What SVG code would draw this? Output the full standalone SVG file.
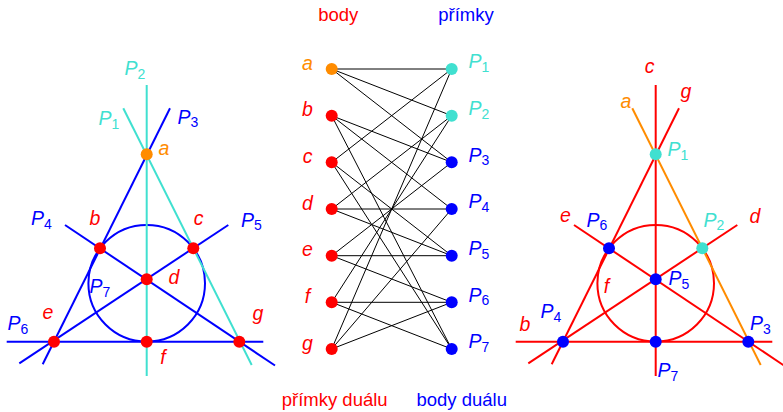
<svg xmlns="http://www.w3.org/2000/svg" width="783" height="412" viewBox="0 0 783 412">
<style>
 text{font-family:"Liberation Sans","DejaVu Sans",sans-serif}
 .lab{font-size:19.5px;font-style:italic}
 .sub{font-size:14px;font-style:normal}
 .hdr{font-size:18.5px}
 .r{fill:#ff0000} .b{fill:#0000ff} .t{fill:#40e0d0} .o{fill:#ff8c00}
 .ln{fill:none;stroke-width:2}
 .lb{stroke:#0000ff} .lr{stroke:#ff0000} .lt{stroke:#40e0d0} .lo{stroke:#ff8c00}
 .edge{stroke:#000;stroke-width:1}
</style>

<!-- LEFT FIGURE: lines -->
<g id="left-lines">
  <line id="L-P6" class="ln lb" x1="6.7" y1="341.7" x2="263.3" y2="341.7"/>
  <line id="L-P3" class="ln lb" x1="170" y1="108.3" x2="42.7" y2="364.3"/>
  <line id="L-P4" class="ln lb" x1="65" y1="225" x2="275" y2="365.5"/>
  <line id="L-P5" class="ln lb" x1="228.3" y1="225" x2="19.3" y2="363.3"/>
  <circle id="L-P7" class="ln lb" cx="146.7" cy="283.3" r="58.3"/>
  <line id="L-P2" class="ln lt" x1="146.7" y1="85" x2="146.7" y2="376"/>
  <line id="L-P1" class="ln lt" x1="123.3" y1="108.3" x2="251.7" y2="365"/>
</g>
<g id="left-points">
  <circle class="o" cx="146.7" cy="154.3" r="6"/>
  <circle class="r" cx="100" cy="248.3" r="6"/>
  <circle class="r" cx="193.3" cy="248.3" r="6"/>
  <circle class="r" cx="146.7" cy="279.3" r="6"/>
  <circle class="r" cx="54" cy="341.7" r="6"/>
  <circle class="r" cx="146.7" cy="341.7" r="6"/>
  <circle class="r" cx="239.3" cy="341.7" r="6"/>
</g>
<g id="left-labels" class="lab">
  <text class="t" x="124.5" y="75">P<tspan class="sub" dy="3.5">2</tspan></text>
  <text class="t" x="98.5" y="125">P<tspan class="sub" dy="3.5">1</tspan></text>
  <text class="b" x="177.5" y="123.5">P<tspan class="sub" dy="3.5">3</tspan></text>
  <text class="o" x="164" y="155" text-anchor="middle">a</text>
  <text class="b" x="31" y="225">P<tspan class="sub" dy="3.5">4</tspan></text>
  <text class="r" x="95" y="225" text-anchor="middle">b</text>
  <text class="r" x="198.5" y="225" text-anchor="middle">c</text>
  <text class="b" x="241" y="226.5">P<tspan class="sub" dy="3.5">5</tspan></text>
  <text class="r" x="174" y="283.5" text-anchor="middle">d</text>
  <text class="b" x="89.5" y="293">P<tspan class="sub" dy="3.5">7</tspan></text>
  <text class="r" x="48" y="318.5" text-anchor="middle">e</text>
  <text class="b" x="7.5" y="330">P<tspan class="sub" dy="3.5">6</tspan></text>
  <text class="r" x="258" y="320" text-anchor="middle">g</text>
  <text class="r" x="163" y="363.5" text-anchor="middle">f</text>
</g>

<!-- MIDDLE: incidence graph -->
<text class="hdr r" x="338.3" y="21" text-anchor="middle">body</text>
<text class="hdr b" x="466" y="21" text-anchor="middle">přímky</text>
<text class="hdr r" x="334.7" y="406" text-anchor="middle">přímky duálu</text>
<text class="hdr b" x="461.7" y="406" text-anchor="middle">body duálu</text>

<g id="connectors" class="edge">
  <!-- a: P1 P2 P3 -->
  <line x1="331.7" y1="69" x2="451.7" y2="69"/>
  <line x1="331.7" y1="69" x2="451.7" y2="115.7"/>
  <line x1="331.7" y1="69" x2="451.7" y2="162.3"/>
  <!-- b: P3 P4 P7 -->
  <line x1="331.7" y1="115.7" x2="451.7" y2="162.3"/>
  <line x1="331.7" y1="115.7" x2="451.7" y2="209"/>
  <line x1="331.7" y1="115.7" x2="451.7" y2="349"/>
  <!-- c: P1 P5 P7 -->
  <line x1="331.7" y1="162.3" x2="451.7" y2="69"/>
  <line x1="331.7" y1="162.3" x2="451.7" y2="255.7"/>
  <line x1="331.7" y1="162.3" x2="451.7" y2="349"/>
  <!-- d: P2 P4 P5 -->
  <line x1="331.7" y1="209" x2="451.7" y2="115.7"/>
  <line x1="331.7" y1="209" x2="451.7" y2="209"/>
  <line x1="331.7" y1="209" x2="451.7" y2="255.7"/>
  <!-- e: P3 P5 P6 -->
  <line x1="331.7" y1="255.7" x2="451.7" y2="162.3"/>
  <line x1="331.7" y1="255.7" x2="451.7" y2="255.7"/>
  <line x1="331.7" y1="255.7" x2="451.7" y2="302.3"/>
  <!-- f: P2 P6 P7 -->
  <line x1="331.7" y1="302.3" x2="451.7" y2="115.7"/>
  <line x1="331.7" y1="302.3" x2="451.7" y2="302.3"/>
  <line x1="331.7" y1="302.3" x2="451.7" y2="349"/>
  <!-- g: P1 P4 P6 -->
  <line x1="331.7" y1="349" x2="451.7" y2="69"/>
  <line x1="331.7" y1="349" x2="451.7" y2="209"/>
  <line x1="331.7" y1="349" x2="451.7" y2="302.3"/>
</g>

<g id="node-a"><circle class="o" cx="331.7" cy="69" r="6"/><text class="lab o" x="307.5" y="69.5" text-anchor="middle">a</text></g>
<g id="node-b"><circle class="r" cx="331.7" cy="115.7" r="6"/><text class="lab r" x="307.5" y="116" text-anchor="middle">b</text></g>
<g id="node-c"><circle class="r" cx="331.7" cy="162.3" r="6"/><text class="lab r" x="307.5" y="162.8" text-anchor="middle">c</text></g>
<g id="node-d"><circle class="r" cx="331.7" cy="209" r="6"/><text class="lab r" x="307.5" y="209.5" text-anchor="middle">d</text></g>
<g id="node-e"><circle class="r" cx="331.7" cy="255.7" r="6"/><text class="lab r" x="307.5" y="256.2" text-anchor="middle">e</text></g>
<g id="node-f"><circle class="r" cx="331.7" cy="302.3" r="6"/><text class="lab r" x="307.5" y="302.8" text-anchor="middle">f</text></g>
<g id="node-g"><circle class="r" cx="331.7" cy="349" r="6"/><text class="lab r" x="307.5" y="349.5" text-anchor="middle">g</text></g>

<g id="node-P1"><circle class="t" cx="451.7" cy="69" r="6"/><text class="lab t" x="468.5" y="68.3">P<tspan class="sub" dy="3.5">1</tspan></text></g>
<g id="node-P2"><circle class="t" cx="451.7" cy="115.7" r="6"/><text class="lab t" x="468.5" y="115">P<tspan class="sub" dy="3.5">2</tspan></text></g>
<g id="node-P3"><circle class="b" cx="451.7" cy="162.3" r="6"/><text class="lab b" x="468.5" y="161.6">P<tspan class="sub" dy="3.5">3</tspan></text></g>
<g id="node-P4"><circle class="b" cx="451.7" cy="209" r="6"/><text class="lab b" x="468.5" y="208.3">P<tspan class="sub" dy="3.5">4</tspan></text></g>
<g id="node-P5"><circle class="b" cx="451.7" cy="255.7" r="6"/><text class="lab b" x="468.5" y="255">P<tspan class="sub" dy="3.5">5</tspan></text></g>
<g id="node-P6"><circle class="b" cx="451.7" cy="302.3" r="6"/><text class="lab b" x="468.5" y="301.6">P<tspan class="sub" dy="3.5">6</tspan></text></g>
<g id="node-P7"><circle class="b" cx="451.7" cy="349" r="6"/><text class="lab b" x="468.5" y="348.3">P<tspan class="sub" dy="3.5">7</tspan></text></g>

<!-- RIGHT FIGURE (dual) -->
<g id="right-lines">
  <line id="R-b" class="ln lr" x1="515.7" y1="341.7" x2="772.3" y2="341.7"/>
  <line id="R-g" class="ln lr" x1="679" y1="108.3" x2="551.7" y2="364.3"/>
  <line id="R-e" class="ln lr" x1="574" y1="225" x2="784" y2="365.5"/>
  <line id="R-d" class="ln lr" x1="737.3" y1="225" x2="528.3" y2="363.3"/>
  <circle id="R-f" class="ln lr" cx="655.7" cy="283.3" r="58.3"/>
  <line id="R-c" class="ln lr" x1="655.7" y1="85" x2="655.7" y2="376"/>
  <line id="R-a" class="ln lo" x1="632.3" y1="108.3" x2="760.7" y2="365"/>
</g>
<g id="right-points">
  <circle class="t" cx="655.7" cy="154.3" r="6"/>
  <circle class="b" cx="609" cy="248.3" r="6"/>
  <circle class="t" cx="702.3" cy="248.3" r="6"/>
  <circle class="b" cx="655.7" cy="279.3" r="6"/>
  <circle class="b" cx="563" cy="341.7" r="6"/>
  <circle class="b" cx="655.7" cy="341.7" r="6"/>
  <circle class="b" cx="748.3" cy="341.7" r="6"/>
</g>
<g id="right-labels" class="lab">
  <text class="r" x="649.5" y="73" text-anchor="middle">c</text>
  <text class="r" x="686" y="98" text-anchor="middle">g</text>
  <text class="o" x="626" y="108" text-anchor="middle">a</text>
  <text class="t" x="667.5" y="156">P<tspan class="sub" dy="3.5">1</tspan></text>
  <text class="r" x="565.5" y="222" text-anchor="middle">e</text>
  <text class="b" x="586.5" y="226.5">P<tspan class="sub" dy="3.5">6</tspan></text>
  <text class="t" x="703.5" y="226.5">P<tspan class="sub" dy="3.5">2</tspan></text>
  <text class="r" x="755" y="222.5" text-anchor="middle">d</text>
  <text class="r" x="606.5" y="293" text-anchor="middle">f</text>
  <text class="b" x="668.5" y="285">P<tspan class="sub" dy="3.5">5</tspan></text>
  <text class="b" x="540.5" y="318">P<tspan class="sub" dy="3.5">4</tspan></text>
  <text class="r" x="525" y="330.5" text-anchor="middle">b</text>
  <text class="b" x="750" y="330">P<tspan class="sub" dy="3.5">3</tspan></text>
  <text class="b" x="657.5" y="377">P<tspan class="sub" dy="3.5">7</tspan></text>
</g>
</svg>
